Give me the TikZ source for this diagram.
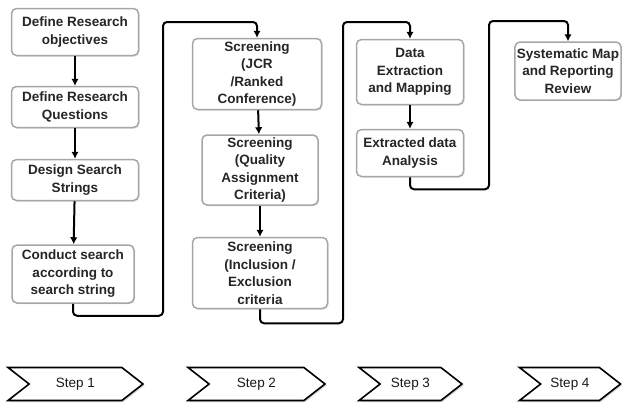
\documentclass[tikz,border=0pt]{standalone}
\usepackage{fontspec}
\setmainfont{Liberation Sans}
\usetikzlibrary{shapes.symbols,shadows,positioning,arrows.meta}

\begin{document}
\begin{tikzpicture}[x=1pt, y=-1pt, >={Latex[length=7pt,width=7.5pt]}, line width=2pt, node distance=1cm]
        \tikzstyle{stage}=[rectangle, rounded corners=5pt, draw=gray!70, fill=white, line width=1.5pt, inner sep=2pt, align=center, font=\fontsize{13.5}{17.5}\selectfont\bfseries, text=black!85, drop shadow={opacity=0.25, shadow xshift=1pt, shadow yshift=-1pt}]
        \tikzstyle{stepsign}=[signal, signal from=west, signal to=east, signal pointer angle=76, draw=black, fill=white, line width=1.6pt, minimum height=33pt, inner sep=0pt, font=\fontsize{13.5}{15}\selectfont, text=black!90, drop shadow={opacity=0.3, shadow xshift=1.5pt, shadow yshift=-1.5pt}]

        \useasboundingbox (0,0) rectangle (622,410);

        % step 1
        \node[stage, minimum width=127pt, minimum height=47pt] (objectives) at (75,32) {Define Research\\objectives};
        \node[stage, minimum width=127pt, minimum height=41pt, below of=objectives, node distance=75pt] (questions) {Define Research\\Questions};
        \node[stage, minimum width=127pt, minimum height=41pt, below of=questions, node distance=73pt] (strings) {Design Search\\Strings};
        \node[stage, minimum width=122pt, minimum height=58pt, below of=strings, node distance=94pt, xshift=-2pt] (search) {Conduct search\\according to\\search string};

        % step 2
        \node[stage, minimum width=129pt, minimum height=71pt] (jcr) at (257,74) {Screening\\(JCR\\/Ranked\\Conference)};
        \node[stage, minimum width=116pt, minimum height=70pt, below of=jcr, node distance=96pt, xshift=3pt] (quality) {Screening\\(Quality\\Assignment\\Criteria)};
        \node[stage, minimum width=135pt, minimum height=71pt, below of=quality, node distance=103pt] (inclusion) {Screening\\(Inclusion /\\Exclusion\\criteria};

        % step 3
        \node[stage, minimum width=107pt, minimum height=65pt] (extraction) at (410,72) {Data\\Extraction\\and Mapping};
        \node[stage, minimum width=107pt, minimum height=47pt, below of=extraction, node distance=81pt] (analysis) {Extracted data\\Analysis};

        % step 4
        \node[stage, minimum width=105pt, minimum height=58pt] (reporting) at (568,71) {Systematic Map\\and Reporting\\Review};

        \coordinate (gap1) at (163,22);
        \coordinate (gap2) at (343,22);
        \coordinate (gap3) at (489,21);

        \draw[->] (objectives) -- (questions);
        \draw[->] (questions) -- (strings);
        \draw[->] (strings) -- (search);
        \draw[->, rounded corners=4pt] (search.south) -- ++(0,12) -| (gap1) -| (jcr.north);
        \draw[->] (jcr) -- (quality);
        \draw[->] (quality) -- (inclusion);
        \draw[->, rounded corners=4pt] (inclusion.south) -- ++(0,14) -| (gap2) -| (extraction.north);
        \draw[->] (extraction) -- (analysis);
        \draw[->, rounded corners=4pt] (analysis.south) -- ++(0,12) -| (gap3) -| (reporting.north);

        % steps
        \node[stepsign, minimum width=135pt] (step1) at (75.5,384) {Step 1};
        \node[stepsign, minimum width=137pt] (step2) at (256.5,384) {Step 2};
        \node[stepsign, minimum width=103pt] (step3) at (410.5,384) {Step 3};
        \node[stepsign, minimum width=101pt] (step4) at (570,384) {Step 4};
    \end{tikzpicture}
\end{document}
